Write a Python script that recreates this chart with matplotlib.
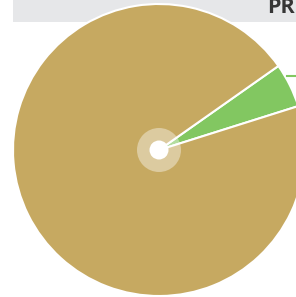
import matplotlib
matplotlib.use("Agg")
import matplotlib.pyplot as plt
from matplotlib.patches import Circle, Rectangle

categories = ["Other", "Main"]
values = [4.9, 95.1]
colors = ["#82c761", "#c6a961"]
title_text = "PR"

W, H = 296, 297
fig = plt.figure(figsize=(W / 100, H / 100), dpi=100)
ax = fig.add_axes([0, 0, 1, 1])
ax.set_xlim(0, W)
ax.set_ylim(0, H)
ax.set_aspect("equal")
ax.axis("off")

# header band
ax.add_patch(Rectangle((13, H - 22), W - 13, 22, facecolor="#e6e7e9", edgecolor="none", zorder=0))
ax.text(267, H - 13.3, title_text, fontsize=15.5, fontweight="bold", color="#363636",
        family=["Open Sans", "DejaVu Sans"], ha="left", va="baseline", zorder=0)

cx, cy, r = 159, H - 150, 146
ax.pie(values, colors=colors, startangle=17.5, counterclock=True,
       center=(cx, cy), radius=r, frame=True,
       wedgeprops=dict(edgecolor="white", linewidth=1.5))
ax.set_xlim(0, W)
ax.set_ylim(0, H)
ax.axis("off")

# leader line for the small slice
ax.plot([287, W], [H - 76, H - 76], color="#82c761", linewidth=1.5, zorder=3)

ax.add_patch(Circle((cx, cy), 22, facecolor="white", alpha=0.4, edgecolor="none", zorder=4))
ax.add_patch(Circle((cx, cy), 9.5, facecolor="white", edgecolor="none", zorder=5))

fig.savefig("out.png", dpi=100)
